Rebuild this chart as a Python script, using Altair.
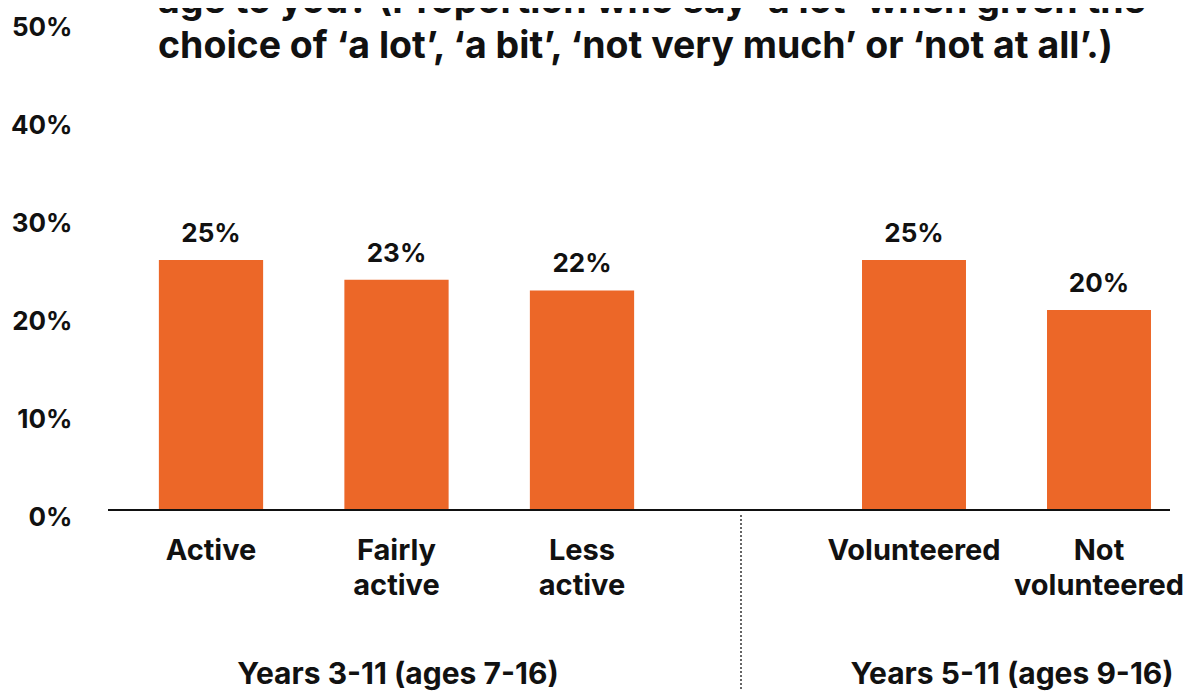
import altair as alt
import pandas as pd

# ---- data ----
left_categories = ["Active", "Fairly active", "Less active"]
left_values = [25.5, 23.5, 22.4]
left_labels = ["25%", "23%", "22%"]

right_categories = ["Volunteered", "Not volunteered"]
right_values = [25.5, 20.4]
right_labels = ["25%", "20%"]

group_names = ["Years 3-11 (ages 7-16)", "Years 5-11 (ages 9-16)"]
y_ticks = [0, 10, 20, 30, 40, 50]
title_lines = [
    "age to you? (Proportion who say \u2018a lot\u2019 when given the",
    "choice of \u2018a lot\u2019, \u2018a bit\u2019, \u2018not very much\u2019 or \u2018not at all\u2019.)",
]

# ---- style ----
FONT = "Inter"
ORANGE = "#EC6728"
INK = "#111111"
W, H = 1062, 490

ysc = alt.Scale(domain=[0, 50])
yax = alt.Axis(values=y_ticks, labelExpr="datum.value + '%'", domain=False, ticks=False,
               grid=False, title=None, labelFont=FONT, labelFontSize=26,
               labelFontWeight="bold", labelColor=INK, labelPadding=36, labelOffset=7)


def group_layer(cats, vals, labs, rng):
    df = pd.DataFrame({"category": cats, "value": vals, "label": labs})
    x = alt.X("category:N", sort=cats, axis=None,
              scale=alt.Scale(range=rng, paddingInner=0.438, paddingOuter=0.219))
    base = alt.Chart(df).encode(x=x)
    bars = base.mark_bar(color=ORANGE).encode(
        y=alt.Y("value:Q", scale=ysc, axis=yax))
    values = base.mark_text(font=FONT, fontSize=26, fontWeight="bold", color=INK,
                            baseline="alphabetic", dy=-18).encode(
        y=alt.Y("value:Q", scale=ysc, axis=yax), text="label:N")
    names = base.mark_text(font=FONT, fontSize=29, fontWeight="bold", color=INK,
                           baseline="alphabetic", lineBreak=" ", lineHeight=35).encode(
        y=alt.value(540), text="category:N")
    return alt.layer(bars, values, names)


left = group_layer(left_categories, left_values, left_labels, [10.25, 566.75])
right = group_layer(right_categories, right_values, right_labels, [713.5, 1083.5])

one = pd.DataFrame({"k": [0]})
baseline = alt.Chart(one).mark_rule(color=INK, strokeWidth=2).encode(
    x=alt.value(0), x2=alt.value(W), y=alt.value(H))
divider = alt.Chart(one).mark_rule(color="#333333", strokeWidth=1.5, strokeDash=[2, 2]).encode(
    x=alt.value(633), y=alt.value(H + 5), y2=alt.value(H + 200))

g_left = alt.Chart(pd.DataFrame({"g": [group_names[0]]})).mark_text(
    font=FONT, fontSize=30, fontWeight="bold", color=INK, baseline="alphabetic").encode(
    text="g:N", x=alt.value(290), y=alt.value(664))
g_right = alt.Chart(pd.DataFrame({"g": [group_names[1]]})).mark_text(
    font=FONT, fontSize=30, fontWeight="bold", color=INK, baseline="alphabetic").encode(
    text="g:N", x=alt.value(904), y=alt.value(664))

title = alt.Chart(pd.DataFrame({"t": ["\n".join(title_lines)]})).mark_text(
    font=FONT, fontSize=37.5, fontWeight="bold", color=INK, align="left",
    baseline="alphabetic", lineBreak="\n", lineHeight=45).encode(
    text="t:N", x=alt.value(50), y=alt.value(-7))

chart = alt.layer(left, right, baseline, divider, g_left, g_right, title).resolve_scale(
    x="independent"
).properties(
    width=W, height=H,
    autosize=alt.AutoSizeParams(type="none"),
    padding={"left": 100, "top": 12, "right": 15, "bottom": 190},
).configure_view(stroke=None)

chart.save("out.html", embed_options={"renderer": "svg", "actions": False})
